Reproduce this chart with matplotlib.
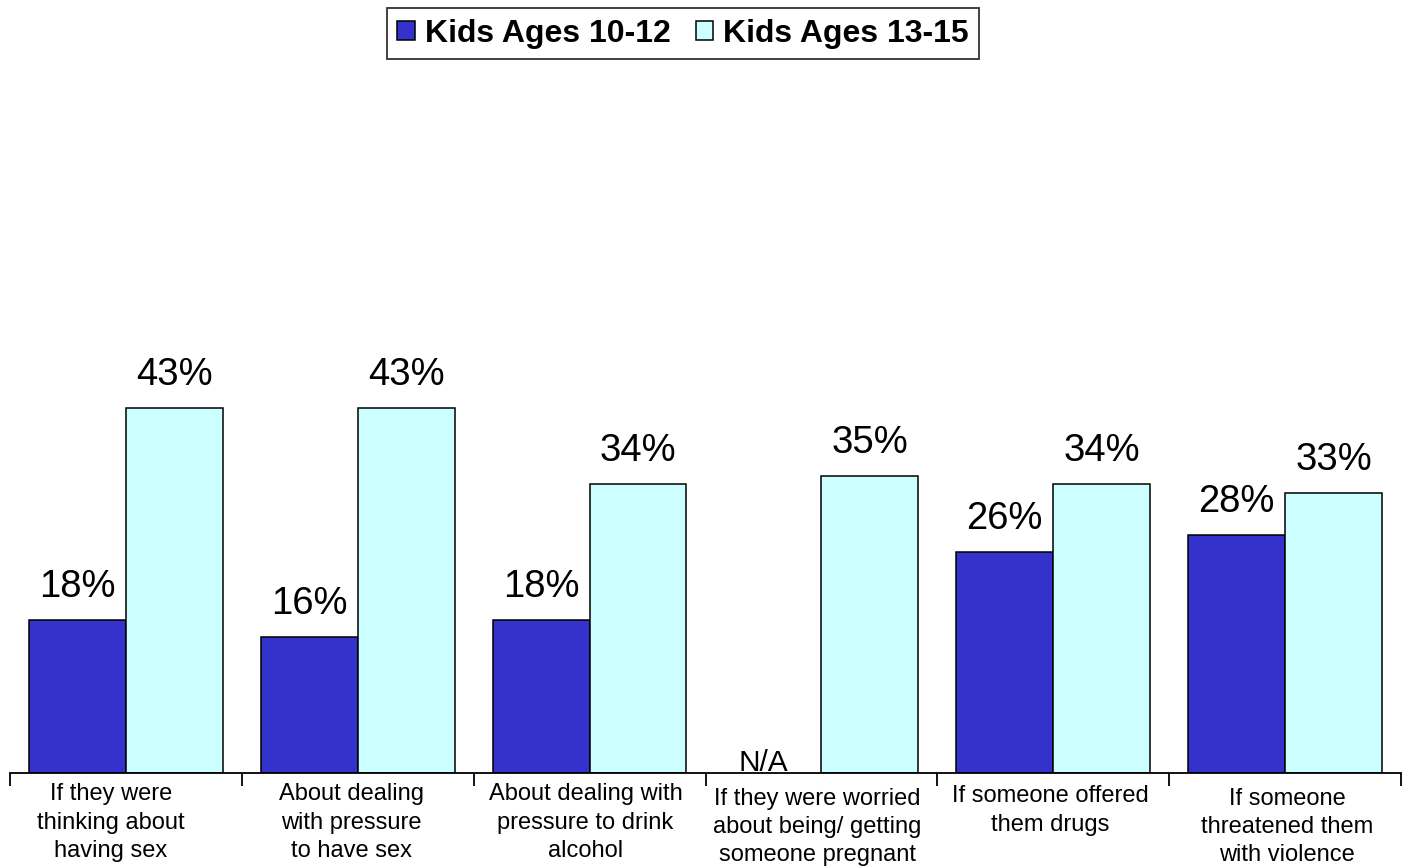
import matplotlib
matplotlib.use("Agg")
import matplotlib.pyplot as plt
import numpy as np

plt.rcParams['font.family'] = ['Liberation Sans', 'DejaVu Sans']

categories = [
    "If they were\nthinking about\nhaving sex",
    "About dealing\nwith pressure\nto have sex",
    "About dealing with\npressure to drink\nalcohol",
    "If they were worried\nabout being/ getting\nsomeone pregnant",
    "If someone offered\nthem drugs",
    "If someone\nthreatened them\nwith violence",
]
series_names = ["Kids Ages 10-12", "Kids Ages 13-15"]
ages_10_12 = [18, 16, 18, None, 26, 28]
ages_13_15 = [43, 43, 34, 35, 34, 33]
colors = ["#3333CC", "#CCFFFF"]

W, H = 1408, 867
fig = plt.figure(figsize=(W / 100, H / 100), dpi=100)
ax = fig.add_axes([10 / W, 1 - 773 / H, 1391 / W, (773 - 348.5) / H])
ax.set_xlim(0, 6)
ax.set_ylim(0, 50)

x = np.arange(len(categories)) + 0.5
bw = 0.418

v1 = [v if v is not None else 0 for v in ages_10_12]
b1 = ax.bar(x - bw / 2, v1, bw, color=colors[0], edgecolor='black', linewidth=1.1,
            label=series_names[0])
b2 = ax.bar(x + bw / 2, ages_13_15, bw, color=colors[1], edgecolor='black', linewidth=1.1,
            label=series_names[1])
for i, v in enumerate(ages_10_12):
    if v is None:
        b1[i].set_visible(False)

for xi, v in zip(x - bw / 2, ages_10_12):
    if v is None:
        ax.annotate("N/A", (xi, 0), xytext=(-7, 1.5), textcoords='offset points',
                    ha='center', va='baseline', fontsize=21.5)
    else:
        ax.annotate(f"{v}%", (xi, v), xytext=(0, 16.5), textcoords='offset points',
                    ha='center', va='baseline', fontsize=27.5)
for xi, v in zip(x + bw / 2, ages_13_15):
    ax.annotate(f"{v}%", (xi, v), xytext=(0, 16.5), textcoords='offset points',
                ha='center', va='baseline', fontsize=27.5)

label_dx = [-11, -4.5, -3, -3, -2, 1.5]
label_dy = [-7.5, -7.5, -7.5, -10.5, -9, -10.5]
for xi, lab, dx, dy in zip(x, categories, label_dx, label_dy):
    ax.annotate(lab, (xi, 0), xycoords=('data', 'axes fraction'), xytext=(dx, dy),
                textcoords='offset points', ha='center', va='top', fontsize=17,
                linespacing=1.37, multialignment='center')

for s in ['top', 'right', 'left']:
    ax.spines[s].set_visible(False)
ax.spines['bottom'].set_linewidth(1.3)
ax.set_yticks([])
ax.set_xticks(np.arange(0, 7))
ax.set_xticklabels([])
ax.tick_params(axis='x', direction='out', length=9, width=1.3, color='black')

leg = fig.legend(handles=[b1, b2], labels=series_names, loc='upper center',
                 bbox_to_anchor=(683 / W, 1 - 8 / H), ncol=2, frameon=True,
                 fancybox=False, edgecolor='black', prop={'weight': 'bold', 'size': 23},
                 handlelength=0.55, handleheight=0.55, handletextpad=0.3,
                 columnspacing=0.8, borderpad=0.33, borderaxespad=0)
leg.get_frame().set_linewidth(1.3)

fig.savefig("out.png", dpi=100)
